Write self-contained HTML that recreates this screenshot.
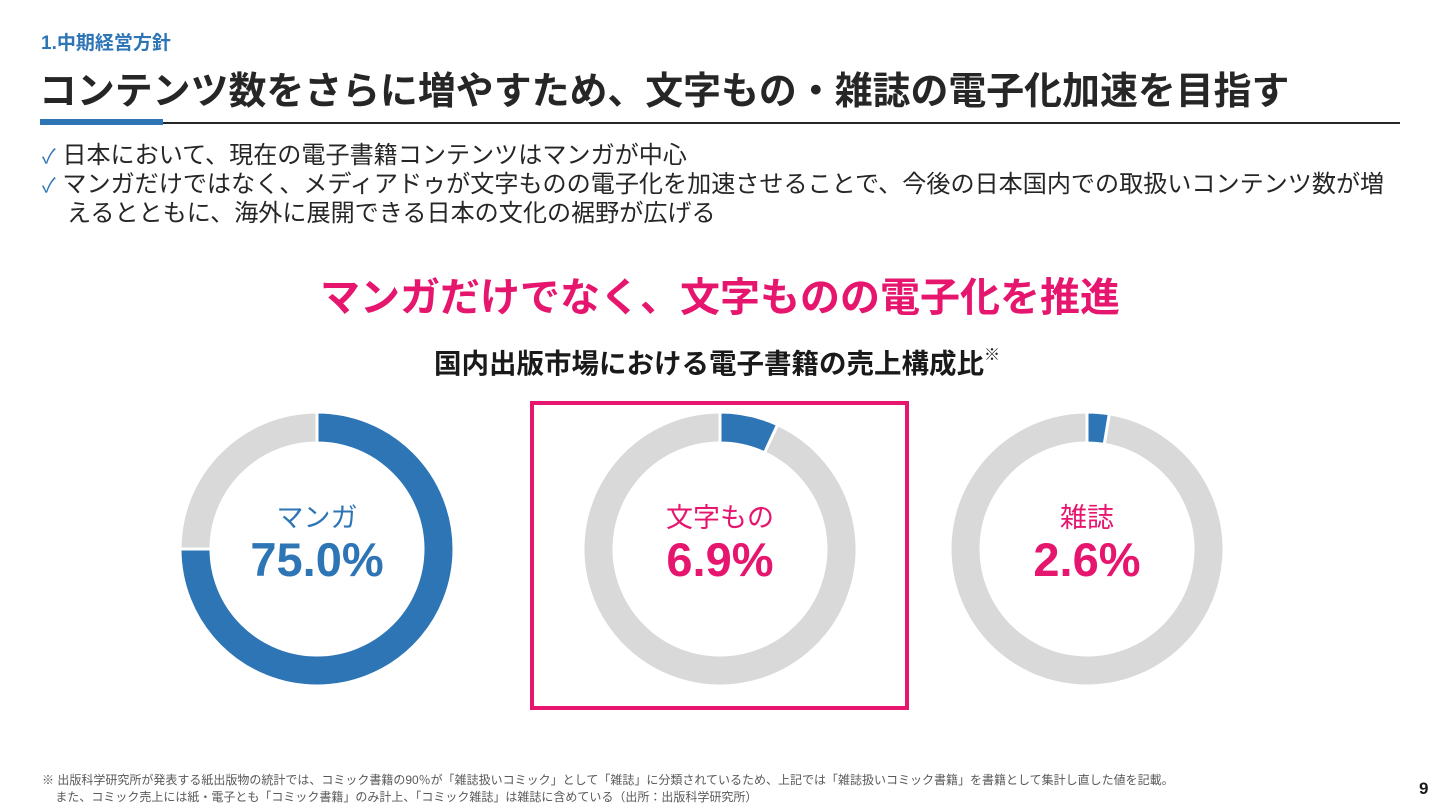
<!DOCTYPE html>
<html><head><meta charset="utf-8"><style>
body{margin:0;width:1440px;height:810px;background:#fff;position:relative;overflow:hidden;font-family:"Liberation Sans","Noto Sans CJK JP",sans-serif}
.a{position:absolute;white-space:nowrap}
</style></head><body>
<div class="a" style="left:41px;top:28px;font-size:19px;font-weight:bold;color:#2e75b6">1.中期経営方針</div>
<div class="a" style="left:39px;top:60px;font-size:37.9px;font-weight:bold;color:#262626">コンテンツ数をさらに増やすため、文字もの・雑誌の電子化加速を目指す</div>
<div class="a" style="left:40px;top:122px;width:1360px;height:2px;background:#262626"></div>
<div class="a" style="left:40px;top:119px;width:123px;height:6px;background:#2e75b6"></div>
<div class="a" style="left:42px;top:142px;font-size:24.1px;line-height:28px;color:#262626">
<div><span style="color:#2e75b6;font-size:20px">✓</span> 日本において、現在の電子書籍コンテンツはマンガが中心</div>
<div><span style="color:#2e75b6;font-size:20px">✓</span> マンガだけではなく、メディアドゥが文字ものの電子化を加速させることで、今後の日本国内での取扱いコンテンツ数が増</div>
<div style="padding-left:25px">えるとともに、海外に展開できる日本の文化の裾野が広げる</div></div>
<div class="a" style="left:0;width:1440px;text-align:center;top:265px;font-size:40px;font-weight:bold;color:#e6166e">マンガだけでなく、文字ものの電子化を推進</div>
<div class="a" style="left:0;width:1434px;text-align:center;top:341px;font-size:27.5px;font-weight:bold;color:#1a1a1a">国内出版市場における電子書籍の売上構成比<span style="font-size:16px;vertical-align:top">※</span></div>
<div class="a" style="left:530px;top:401px;width:371px;height:301px;border:4px solid #e6166e"></div>
<svg class="a" style="left:0;top:0" width="1440" height="810" id="ch"></svg>
<div class="a" style="left:42px;top:772px;font-size:12px;line-height:17px;color:#595959">※ 出版科学研究所が発表する紙出版物の統計では、コミック書籍の90％が「雑誌扱いコミック」として「雑誌」に分類されているため、上記では「雑誌扱いコミック書籍」を書籍として集計し直した値を記載。<br>&nbsp;&nbsp;&nbsp;&nbsp;また、コミック売上には紙・電子とも「コミック書籍」のみ計上、「コミック雑誌」は雑誌に含めている（出所：出版科学研究所）</div>
<div class="a" style="left:1419px;top:779px;font-size:17px;font-weight:bold;color:#1a1a1a">9</div>
<script>
const categories=["マンガ","文字もの","雑誌"];
const shares=[75.0,6.9,2.6];
const labels=["75.0%","6.9%","2.6%"];
const cx=[317,720,1087], colors=["#2e75b6","#e6166e","#e6166e"];
const svg=document.getElementById('ch'),NS="http://www.w3.org/2000/svg";
const R=137,r=106,cy=549;
function pt(x,rad,f){const a=f*2*Math.PI-Math.PI/2;return [x+rad*Math.cos(a),cy+rad*Math.sin(a)];}
function arc(x,f0,f1){const L=(f1-f0)>0.5?1:0;const[a,b]=pt(x,R,f0),[c,d]=pt(x,R,f1),[e,f]=pt(x,r,f1),[g,h]=pt(x,r,f0);
return `M${a},${b}A${R},${R} 0 ${L} 1 ${c},${d}L${e},${f}A${r},${r} 0 ${L} 0 ${g},${h}Z`;}
shares.forEach((v,i)=>{
 const f=v/100;
 const p1=document.createElementNS(NS,'path');p1.setAttribute('d',arc(cx[i],f,0.99999));p1.setAttribute('fill','#d9d9d9');p1.setAttribute('stroke','#fff');p1.setAttribute('stroke-width','3');
 
 svg.appendChild(p1);
 const p=document.createElementNS(NS,'path');p.setAttribute('d',arc(cx[i],0,f));p.setAttribute('fill','#2e75b6');p.setAttribute('stroke','#fff');p.setAttribute('stroke-width','3');
 
 svg.appendChild(p);
 const t=document.createElementNS(NS,'text');t.setAttribute('x',cx[i]);t.setAttribute('y',527);t.setAttribute('text-anchor','middle');t.setAttribute('font-size','27');t.setAttribute('fill',colors[i]);t.textContent=categories[i];
 
 svg.appendChild(t);
 const t2=document.createElementNS(NS,'text');t2.setAttribute('x',cx[i]);t2.setAttribute('y',576);t2.setAttribute('text-anchor','middle');t2.setAttribute('font-size','47');t2.setAttribute('font-weight','bold');t2.setAttribute('fill',colors[i]);t2.textContent=labels[i];
 
 svg.appendChild(t2);
});
</script>
</body></html>
